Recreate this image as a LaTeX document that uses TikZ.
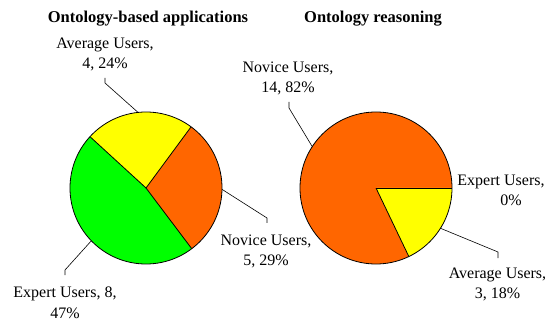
\documentclass[tikz,border=0pt]{standalone}
\usepackage{fontspec}
\setmainfont{Liberation Serif}
\definecolor{pieorange}{HTML}{FF6600}
\definecolor{pieyellow}{HTML}{FFFF00}
\definecolor{piegreen}{HTML}{00FF00}
\begin{document}
\begin{tikzpicture}[x=1pt,y=1pt,
  lab/.style={font=\fontsize{16}{20.5}\selectfont, align=center, inner sep=0pt, anchor=base},
  ttl/.style={font=\fontsize{16.5}{20}\selectfont\bfseries, inner sep=0pt, anchor=base},
  lead/.style={draw=black, line width=0.6pt},
  wedgeline/.style={draw=black, line width=0.8pt, line join=round},
  pie/.style={circle, minimum size=152pt, inner sep=0pt, outer sep=0pt}]
\useasboundingbox (0,0) rectangle (556,-320);

% titles
\node[ttl] (t1) at (148,-23) {Ontology-based applications};
\node[ttl] (t2) at (373,-23) {Ontology reasoning};

% left pie
\coordinate (cL) at (146,-188);
\fill[pieorange] (cL) -- ++(-53:76) arc[start angle=-53, end angle=53.6, radius=76] -- cycle;
\fill[pieyellow] (cL) -- ++(53.6:76) arc[start angle=53.6, end angle=137.5, radius=76] -- cycle;
\fill[piegreen] (cL) -- ++(137.5:76) arc[start angle=137.5, end angle=307, radius=76] -- cycle;
\draw[wedgeline] (cL) -- ++(-53:76);
\draw[wedgeline] (cL) -- ++(53.6:76);
\draw[wedgeline] (cL) -- ++(137.5:76);
\node[pie, draw=black, line width=0.8pt] (pieL) at (cL) {};

% right pie
\coordinate (cR) at (376,-188);
\fill[pieorange] (cR) -- ++(0:76) arc[start angle=0, end angle=295.6, radius=76] -- cycle;
\fill[pieyellow] (cR) -- ++(-64.4:76) arc[start angle=-64.4, end angle=0, radius=76] -- cycle;
\draw[wedgeline] (cR) -- ++(0:76);
\draw[wedgeline] (cR) -- ++(-64.4:76);
\node[pie, draw=black, line width=0.8pt] (pieR) at (cR) {};

% labels left (base anchor = baseline of last line)
\node[lab] (avgL) at (105,-69) {Average Users,\\4, 24\%};
\node[lab] (novL) at (266,-265.5) {Novice Users,\\5, 29\%};
\node[lab] (expL) at (65,-318) {Expert Users, 8,\\47\%};

% labels right
\node[lab] (novR) at (288,-93) {Novice Users,\\14, 82\%};
\node[lab] (expR) at (501,-205.5) {Expert Users,\\\hspace*{20pt}0\%};
\node[lab] (avgR) at (497.5,-298.5) {Average Users,\\3, 18\%};

% leader lines
\coordinate (aL1) at (105,-83); \coordinate (aL2) at (105,-78);
\draw[lead] (pieL.96) -- (aL1) -- (aL2);
\coordinate (nL1) at (267,-218); \coordinate (nL2) at (267,-223);
\draw[lead] (pieL.-1.5) -- (nL1) -- (nL2);
\coordinate (eL1) at (65,-270); \coordinate (eL2) at (65,-275);
\draw[lead] (pieL.224) -- (eL1) -- (eL2);

\coordinate (nR1) at (289,-108); \coordinate (nR2) at (289,-102);
\draw[lead] (pieR.147) -- (nR1) -- (nR2);
\coordinate (aR1) at (498,-252); \coordinate (aR2) at (498,-258);
\draw[lead] (pieR.-32) -- (aR1) -- (aR2);
\end{tikzpicture}
\end{document}
